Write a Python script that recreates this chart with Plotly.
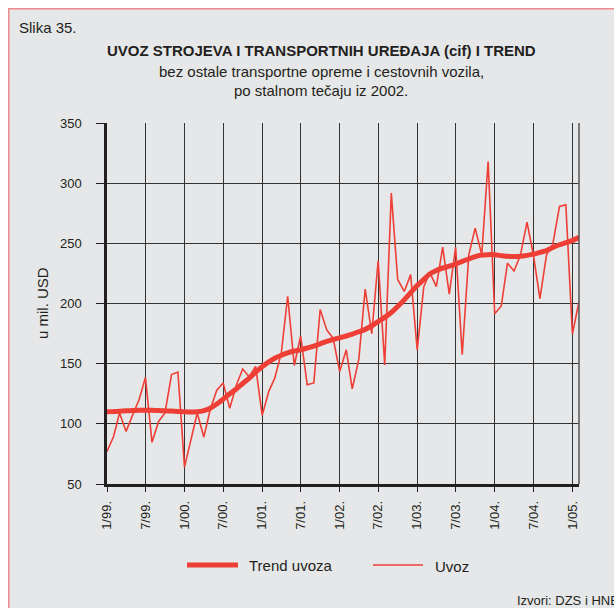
"""
Uvoz strojeva i transportnih uređaja (cif) i trend, 1/99. - 2/05.
"""

import pandas as pd
import plotly.graph_objects as go

# monthly values, u mil. USD, January 1999 onward
MONTHS = pd.date_range("1999-01-01", periods=74, freq="MS")

UVOZ = [
    77, 89.5, 109, 93.7, 107, 120, 138.5, 84.6, 102, 109, 141, 143,
    64, 88, 109, 89, 111.7, 128, 134, 113, 132, 145.5, 139, 147.7,
    107, 127, 138, 159, 206, 148.5, 173, 132.5, 134, 195, 178, 171,
    143.5, 161.5, 129, 153.8, 212, 175, 235.5, 149, 291.7, 220, 210, 224,
    161.5, 214, 225.8, 214, 246.8, 207.8, 246.8, 157.4, 240.5, 262.6, 240.5, 318,
    191.4, 198, 233.5, 227, 240, 267.6, 240.5, 204, 240.5, 249.6, 280.6, 282,
    174.6, 201.7,
]

TREND = [
    110, 110.2, 110.5, 110.8, 111, 111.2, 111.3, 111.2, 111, 110.8, 110.6, 110.3,
    110, 109.8, 110, 111, 113, 116.5, 120.5, 125, 129, 133.5, 138, 143,
    147.5, 151.5, 154.5, 157, 159, 160.5, 161.5, 163, 164.5, 166.5, 168.5, 170,
    171.5, 173, 174.5, 176.5, 178.5, 181.5, 185, 188.5, 192.5, 197.5, 203, 209,
    215, 220, 224.5, 227.5, 229.5, 231, 232.7, 235, 237, 239, 240.3, 240.6,
    240.5, 239.8, 239.2, 239, 239.2, 240, 241, 242.5, 244, 246.5, 248.8, 250.5,
    252.3, 255,
]

TICK_DATES = [
    "1999-01-01", "1999-07-01", "2000-01-01", "2000-07-01", "2001-01-01",
    "2001-07-01", "2002-01-01", "2002-07-01", "2003-01-01", "2003-07-01",
    "2004-01-01", "2004-07-01", "2005-01-01",
]
TICK_LABELS = [
    "1/99.", "7/99.", "1/00.", "7/00.", "1/01.", "7/01.", "1/02.",
    "7/02.", "1/03.", "7/03.", "1/04.", "7/04.", "1/05.",
]

W, H = 614, 608
L, R, T, B = 107, 579, 123, 484
RED = "#ee3f37"
BG = "#e6e7e8"
INK = "#231f20"
FONT = "Liberation Sans, Arial, sans-serif"


def px(x):
    """window pixel -> paper x"""
    return (x - L) / (R - L)


def py(y):
    """window pixel -> paper y"""
    return (B - y) / (B - T)


fig = go.Figure()
fig.add_trace(
    go.Scatter(
        x=MONTHS, y=TREND, mode="lines", name="Trend uvoza",
        line=dict(color=RED, width=5, shape="spline", smoothing=0.6),
    )
)
fig.add_trace(
    go.Scatter(
        x=MONTHS, y=UVOZ, mode="lines", name="Uvoz",
        line=dict(color=RED, width=1.6),
    )
)

fig.update_layout(
    width=W, height=H,
    margin=dict(l=L, r=W - R, t=T, b=H - B, pad=0),
    paper_bgcolor="white",
    plot_bgcolor=BG,
    showlegend=False,
    font=dict(family=FONT, color=INK, size=13),
    xaxis=dict(
        range=[MONTHS[0], MONTHS[-1]],
        tickvals=TICK_DATES, ticktext=TICK_LABELS, tickangle=-90,
        showgrid=True, gridcolor="#333333", gridwidth=1.3,
        showline=True, linecolor=INK, linewidth=2.5,
        ticks="outside", ticklen=5, tickcolor=INK, tickwidth=1,
        ticklabelstandoff=4, tickfont=dict(size=13), zeroline=False,
    ),
    yaxis=dict(
        range=[50, 350], dtick=50,
        showgrid=True, gridcolor="#333333", gridwidth=1.3,
        showline=True, linecolor=INK, linewidth=2.5,
        ticks="outside", ticklen=8, tickcolor=INK, tickwidth=1,
        ticklabelstandoff=12, tickfont=dict(size=13), zeroline=False,
    ),
)

# grey page with a pink frame, white strip left and above
fig.add_shape(
    type="rect", xref="paper", yref="paper", layer="below",
    x0=px(8.8), x1=px(700), y0=py(700), y1=py(8.8),
    fillcolor=BG, line=dict(color="#f08a8a", width=1.5),
)
# right border of the plot area
fig.add_shape(
    type="line", xref="paper", yref="paper",
    x0=1, x1=1, y0=0, y1=1, line=dict(color="#555555", width=1.5),
)

texts = [
    ("Slika 35.", 17, 27, "left", 15),
    ("<b>UVOZ STROJEVA I TRANSPORTNIH UREĐAJA (cif) I TREND</b>", 321, 51, "center", 15),
    ("bez ostale transportne opreme i cestovnih vozila,", 321, 71, "center", 15),
    ("po stalnom tečaju iz 2002.", 321, 90, "center", 15),
    ("Trend uvoza", 247, 565, "left", 15),
    ("Uvoz", 433, 566, "left", 15),
    ("Izvori: DZS i HNB", 515, 600, "left", 13),
]
for text, x, y, anchor, size in texts:
    fig.add_annotation(
        text=text, xref="paper", yref="paper", x=px(x), y=py(y),
        xanchor=anchor, yanchor="middle", showarrow=False,
        font=dict(size=size, family=FONT, color=INK),
    )

fig.add_annotation(
    text="u mil. USD", xref="paper", yref="paper", x=px(42), y=py(303),
    xanchor="center", yanchor="middle", textangle=-90, showarrow=False,
    font=dict(size=15, family=FONT, color=INK),
)

# legend keys
fig.add_shape(
    type="line", xref="paper", yref="paper",
    x0=px(187), x1=px(238), y0=py(565), y1=py(565),
    line=dict(color=RED, width=5),
)
fig.add_shape(
    type="line", xref="paper", yref="paper",
    x0=px(373), x1=px(423), y0=py(565), y1=py(565),
    line=dict(color=RED, width=1.6),
)

# figure fills the whole window: no page margin, no scrollbars, no modebar
fig.write_html(
    "out.html",
    config={"displayModeBar": False},
    post_script=(
        "document.body.style.margin = '0';"
        "document.body.style.overflow = 'hidden';"
    ),
)
